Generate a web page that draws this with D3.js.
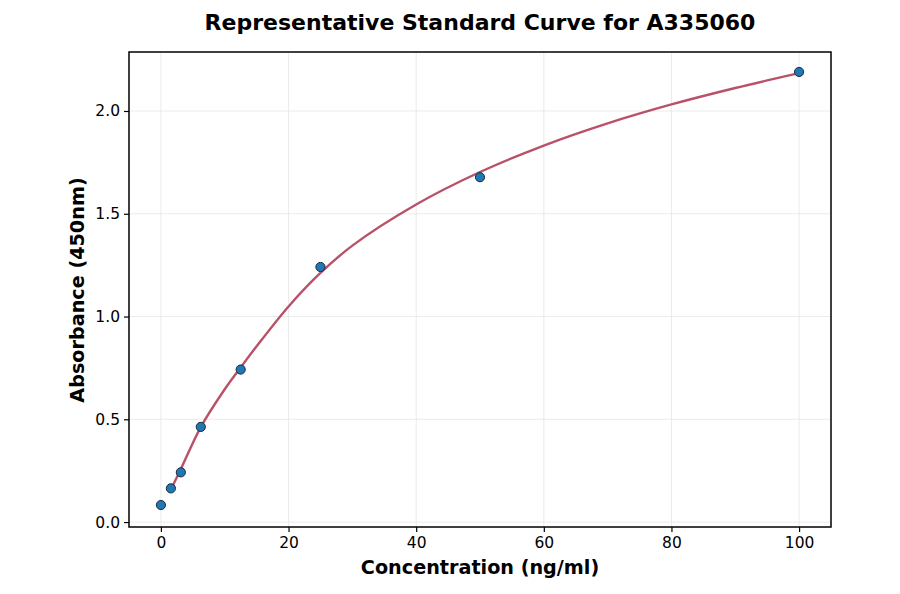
<!DOCTYPE html>
<html><head><meta charset="utf-8">
<script src="https://cdn.jsdelivr.net/npm/d3@7"></script>
<style>body{margin:0;background:#fff}svg{display:block;font-family:"DejaVu Sans",sans-serif}</style>
</head><body><svg id="c" width="900" height="594"></svg>
<script>
const concentrations = [0, 1.5625, 3.125, 6.25, 12.5, 25, 50, 100];
const absorbances = [0.083, 0.164, 0.242, 0.463, 0.742, 1.241, 1.678, 2.19];
const curveX = [1.5625, 3.125, 6.25, 10, 12.5, 15, 20, 25, 30, 40, 50, 60, 70, 80, 90, 100];
const curveY = [0.158, 0.258, 0.462, 0.646, 0.752, 0.855, 1.049, 1.212, 1.345, 1.545, 1.703, 1.832, 1.940, 2.032, 2.112, 2.184];
const xTicks = [0, 20, 40, 60, 80, 100];
const yTicks = [0.0, 0.5, 1.0, 1.5, 2.0];

const svg = d3.select("#c");
const L = 129, R = 831, T = 52, B = 527;
const x = d3.scaleLinear().domain([-5, 105]).range([L, R]);
const y = d3.scaleLinear().domain([-0.024, 2.287]).range([B, T]);

// grid
svg.append("g").selectAll("line").data(xTicks).join("line")
  .attr("x1", d => x(d)).attr("x2", d => x(d)).attr("y1", T).attr("y2", B)
  .attr("stroke", "#e6e6e6").attr("stroke-width", 0.8);
svg.append("g").selectAll("line").data(yTicks).join("line")
  .attr("y1", d => y(d)).attr("y2", d => y(d)).attr("x1", L).attr("x2", R)
  .attr("stroke", "#e6e6e6").attr("stroke-width", 0.8);

// axes
const xa = svg.append("g").attr("transform", `translate(0,${B})`)
  .call(d3.axisBottom(x).tickValues(xTicks).tickFormat(d3.format("d")).tickSize(5).tickPadding(5));
const ya = svg.append("g").attr("transform", `translate(${L},0)`)
  .call(d3.axisLeft(y).tickValues(yTicks).tickFormat(d3.format(".1f")).tickSize(5).tickPadding(4));
[xa, ya].forEach(a => {
  a.select(".domain").remove();
  a.selectAll("text").attr("font-size", 15.5).attr("fill", "#000").attr("font-family", "DejaVu Sans");
  a.selectAll("line").attr("stroke", "#000").attr("stroke-width", 1.2);
});

// curve
const pts = curveX.map((d, i) => [d, curveY[i]]);
svg.append("path").datum(pts)
  .attr("d", d3.line().x(d => x(d[0])).y(d => y(d[1])).curve(d3.curveCatmullRom.alpha(0.5)))
  .attr("fill", "none").attr("stroke", "#b85268").attr("stroke-width", 2.4);

// points
svg.append("g").selectAll("circle").data(concentrations).join("circle")
  .attr("cx", d => x(d)).attr("cy", (d, i) => y(absorbances[i])).attr("r", 4.6)
  .attr("fill", "#1f77b4").attr("stroke", "#1a2a3a").attr("stroke-width", 1);

// frame
svg.append("rect").attr("x", L).attr("y", T).attr("width", R - L).attr("height", B - T)
  .attr("fill", "none").attr("stroke", "#000").attr("stroke-width", 1.5);

// labels
svg.append("text").attr("x", 480).attr("y", 30).attr("text-anchor", "middle")
  .attr("font-size", 22).attr("font-weight", "bold").text("Representative Standard Curve for A335060");
svg.append("text").attr("x", 480).attr("y", 574).attr("text-anchor", "middle")
  .attr("font-size", 19.2).attr("font-weight", "bold").text("Concentration (ng/ml)");
svg.append("text").attr("transform", "translate(84,290) rotate(-90)").attr("text-anchor", "middle")
  .attr("font-size", 19.2).attr("font-weight", "bold").text("Absorbance (450nm)");
</script></body></html>
